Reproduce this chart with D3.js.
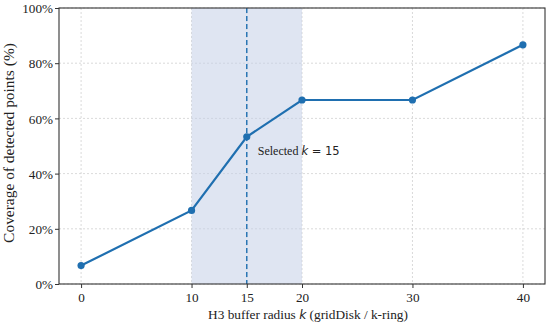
<!DOCTYPE html>
<html><head><meta charset="utf-8">
<script src="https://cdn.jsdelivr.net/npm/d3@7"></script>
<style>body{margin:0;background:#fff}</style>
</head><body>
<svg id="c" width="550" height="325"></svg>
<script>
const kValues = [0, 10, 15, 20, 30, 40];
const coverage = [0.0667, 0.2667, 0.5333, 0.6667, 0.6667, 0.8667];
const xTicks = [0, 10, 15, 20, 30, 40];
const yTicks = [0, 0.2, 0.4, 0.6, 0.8, 1.0];
const band = [10, 20];
const selectedK = 15;

const svg = d3.select("#c");
const m = {l: 59, r: 5, t: 8, b: 41};
const W = 550, H = 325;
const x = d3.scaleLinear().domain([-2, 42]).range([m.l, W - m.r]);
const y = d3.scaleLinear().domain([0, 1]).range([H - m.b, m.t]);
const serif = "'Liberation Serif','Times New Roman',serif";
const blue = "#1f6fb0";

// grid
const g = svg.append("g");
g.selectAll(".gx").data(xTicks).join("line")
  .attr("x1", d => x(d)).attr("x2", d => x(d)).attr("y1", m.t).attr("y2", H - m.b)
  .attr("stroke", "#d0d0d0").attr("stroke-width", 0.8).attr("stroke-dasharray", "2,2");
g.selectAll(".gy").data(yTicks).join("line")
  .attr("y1", d => y(d)).attr("y2", d => y(d)).attr("x1", m.l).attr("x2", W - m.r)
  .attr("stroke", "#d0d0d0").attr("stroke-width", 0.8).attr("stroke-dasharray", "2,2");

// band
svg.append("rect").attr("x", x(band[0])).attr("y", m.t)
  .attr("width", x(band[1]) - x(band[0])).attr("height", H - m.b - m.t)
  .attr("fill", "#c5d0e8").attr("opacity", 0.55);

// selected line
svg.append("line").attr("x1", x(selectedK)).attr("x2", x(selectedK))
  .attr("y1", m.t).attr("y2", H - m.b)
  .attr("stroke", blue).attr("stroke-width", 1.4).attr("stroke-dasharray", "5,3");

// data line
const pts = kValues.map((k, i) => [k, coverage[i]]);
svg.append("path").datum(pts)
  .attr("d", d3.line().x(d => x(d[0])).y(d => y(d[1])))
  .attr("fill", "none").attr("stroke", blue).attr("stroke-width", 2.2);
svg.selectAll(".pt").data(pts).join("circle")
  .attr("cx", d => x(d[0])).attr("cy", d => y(d[1])).attr("r", 3.6).attr("fill", blue);

// annotation
const ann = svg.append("text").attr("x", x(selectedK) + 11).attr("y", 155)
  .attr("font-family", serif).attr("font-size", 12).attr("fill", "#222");
ann.append("tspan").text("Selected ");
ann.append("tspan").attr("font-family", "'DejaVu Sans',sans-serif").attr("font-style", "italic").attr("font-size", 11.5).text("k");
ann.append("tspan").attr("font-family", "'DejaVu Sans',sans-serif").attr("font-size", 11.5).text(" = 15");

// axes
const xa = svg.append("g").attr("transform", `translate(0,${H - m.b})`)
  .call(d3.axisBottom(x).tickValues(xTicks).tickSize(4).tickSizeOuter(0));
const ya = svg.append("g").attr("transform", `translate(${m.l},0)`)
  .call(d3.axisLeft(y).tickValues(yTicks).tickFormat(d => Math.round(d * 100) + "%").tickSize(4).tickSizeOuter(0));
[xa, ya].forEach(a => {
  a.select(".domain").remove();
  a.selectAll("line").attr("stroke", "#333").attr("stroke-width", 1);
  a.selectAll("text").attr("font-family", serif).attr("font-size", 13.2).attr("fill", "#222");
});
xa.selectAll("text").attr("y", 18).attr("dy", 0);
ya.selectAll("text").attr("dy", "0.36em").attr("x", -6);

// frame
svg.append("rect").attr("x", m.l).attr("y", m.t).attr("width", W - m.r - m.l).attr("height", H - m.b - m.t)
  .attr("fill", "none").attr("stroke", "#333").attr("stroke-width", 1.1);

// labels
function fit(sel, target) {
  const base = +sel.attr("font-size");
  const len = sel.node().getComputedTextLength();
  if (len > 0) {
    const s = base * target / len;
    sel.attr("font-size", s);
    sel.selectAll("tspan").each(function() {
      const t = d3.select(this);
      if (t.attr("font-size")) t.attr("font-size", +t.attr("font-size") * target / len);
    });
  }
}
const xl = svg.append("text").attr("x", 308).attr("y", 319).attr("text-anchor", "middle")
  .attr("font-family", serif).attr("font-size", 13).attr("fill", "#222");
xl.append("tspan").text("H3 buffer radius ");
xl.append("tspan").attr("font-family", "'DejaVu Sans',sans-serif").attr("font-style", "italic").attr("font-size", 12).text("k");
xl.append("tspan").text(" (gridDisk / k-ring)");
fit(xl, 200);

const yl = svg.append("text").attr("transform", `translate(14,143) rotate(-90)`)
  .attr("text-anchor", "middle").attr("font-family", serif).attr("font-size", 13).attr("fill", "#222")
  .text("Coverage of detected points (%)");
fit(yl, 200);
</script>
</body></html>
